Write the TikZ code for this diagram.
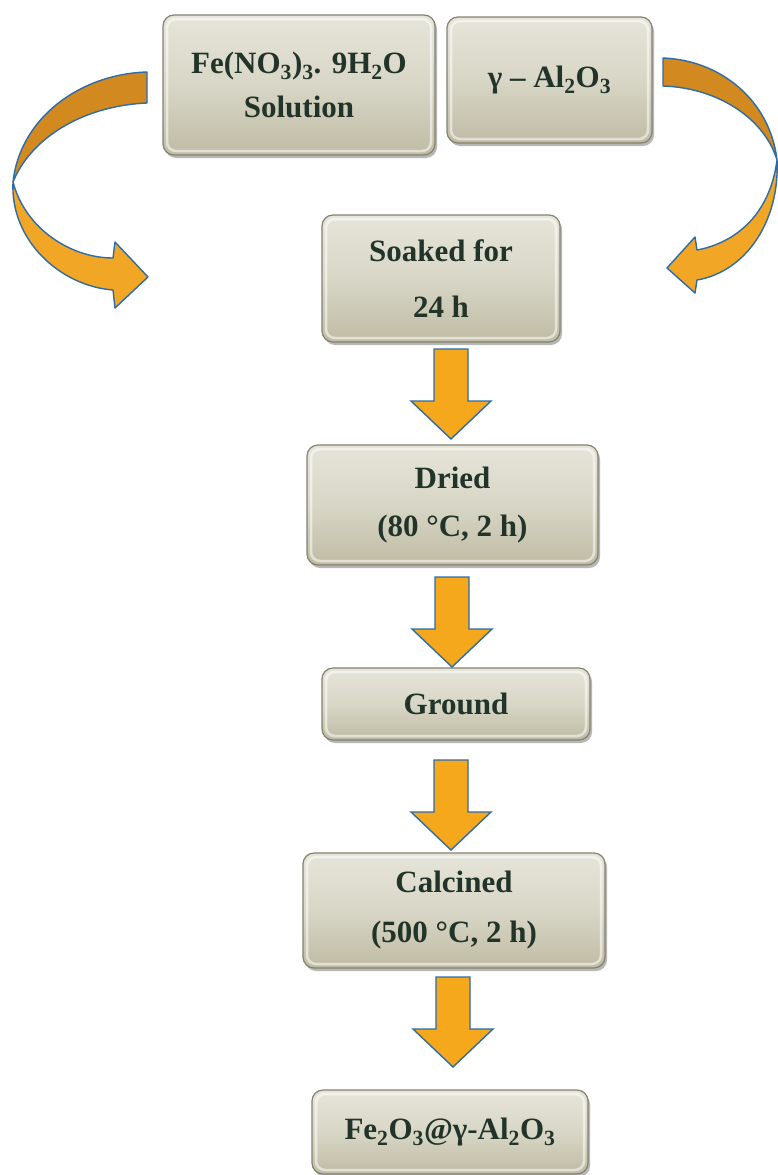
\documentclass[tikz,border=0pt]{standalone}
\usepackage{fontspec}
\setmainfont{Liberation Serif}
\usetikzlibrary{shadows}
\definecolor{txt}{HTML}{22342A}
\definecolor{boxtop}{HTML}{E6E5DA}
\definecolor{boxmid}{HTML}{D8D6C6}
\definecolor{boxbot}{HTML}{BFBBA4}
\definecolor{boxedge}{HTML}{858270}
\definecolor{arrfill}{HTML}{F5A81C}
\definecolor{arrdark}{HTML}{D2891F}
\definecolor{arrlight}{HTML}{F2A626}
\definecolor{arredge}{HTML}{2E6CA6}
\begin{document}
\begin{tikzpicture}[x=1pt,y=-1pt,
  box/.style={rounded corners=11pt, draw=boxedge, line width=1.2pt,
    top color=boxtop, bottom color=boxbot, middle color=boxmid,
    drop shadow={shadow xshift=2pt, shadow yshift=-3pt, opacity=0.4, fill=black!70},
    path picture={\draw[white, opacity=0.55, line width=2.5pt, rounded corners=9pt]
      ([shift={(4pt,-4pt)}]path picture bounding box.north west) rectangle
      ([shift={(-4pt,4pt)}]path picture bounding box.south east);},
    text=txt, align=center, inner sep=0pt},
  bfont/.style={font=\fontsize{31}{#1}\selectfont\bfseries},
  ribbon/.style={draw=arredge, line width=1.4pt, line join=round},
  blockdown/.pic={
    \draw[fill=arrfill, draw=arredge, line width=1.4pt, line join=miter]
      (-17,-45) -- (17,-45) -- (17,7) -- (40,7) -- (0,45) -- (-40,7) -- (-17,7) -- cycle;
  }]
\useasboundingbox[fill=white] (0,0) rectangle (778,1175);

% curved arrows
\path[ribbon, fill=arrdark] (147,72) .. controls (80,74) and (20,118) .. (13,182)
   .. controls (30,140) and (80,106) .. (147,103) -- cycle;
\path[ribbon, fill=arrlight] (13,182) .. controls (10,240) and (60,286) .. (113,290)
   -- (115,308) -- (148,277) -- (115,242) -- (113,258)
   .. controls (70,258) and (25,228) .. (13,182) -- cycle;

\path[ribbon, fill=arrdark] (663,58) .. controls (720,60) and (770,100) .. (777,160)
   .. controls (765,120) and (720,88) .. (663,86) -- cycle;
\path[ribbon, fill=arrlight] (777,160) .. controls (780,222) and (745,272) .. (697,280)
   -- (695,293) -- (667,268) -- (695,237) -- (697,250)
   .. controls (735,243) and (770,215) .. (777,160) -- cycle;

% boxes
\node[box, bfont=44, minimum width=272pt, minimum height=140pt] (fe) at (299,85)
  {Fe(NO\textsubscript{3})\textsubscript{3}. 9H\textsubscript{2}O\\Solution};
\node[box, bfont=40, minimum width=205pt, minimum height=126pt] (al) at (549.5,80)
  {\raisebox{5pt}{γ – Al\textsubscript{2}O\textsubscript{3}}};
\node[box, bfont=56, minimum width=238pt, minimum height=127pt] (soak) at (441,278.5)
  {Soaked for\\24 h};
\node[box, bfont=48, minimum width=291pt, minimum height=120pt] (dry) at (452.5,505)
  {Dried\\(80 °C, 2 h)};
\node[box, bfont=40, minimum width=268pt, minimum height=72pt] (ground) at (456,704)
  {Ground};
\node[box, bfont=50, minimum width=302pt, minimum height=115pt] (calc) at (454,910.5)
  {Calcined\\(500 °C, 2 h)};
\node[box, bfont=40, minimum width=276pt, minimum height=84pt] (final) at (450,1132)
  {Fe\textsubscript{2}O\textsubscript{3}@γ-Al\textsubscript{2}O\textsubscript{3}};

% straight block arrows
\pic at (451,394) {blockdown};
\pic at (452,622) {blockdown};
\pic at (451,805) {blockdown};
\pic at (453,1022) {blockdown};
\end{tikzpicture}
\end{document}
